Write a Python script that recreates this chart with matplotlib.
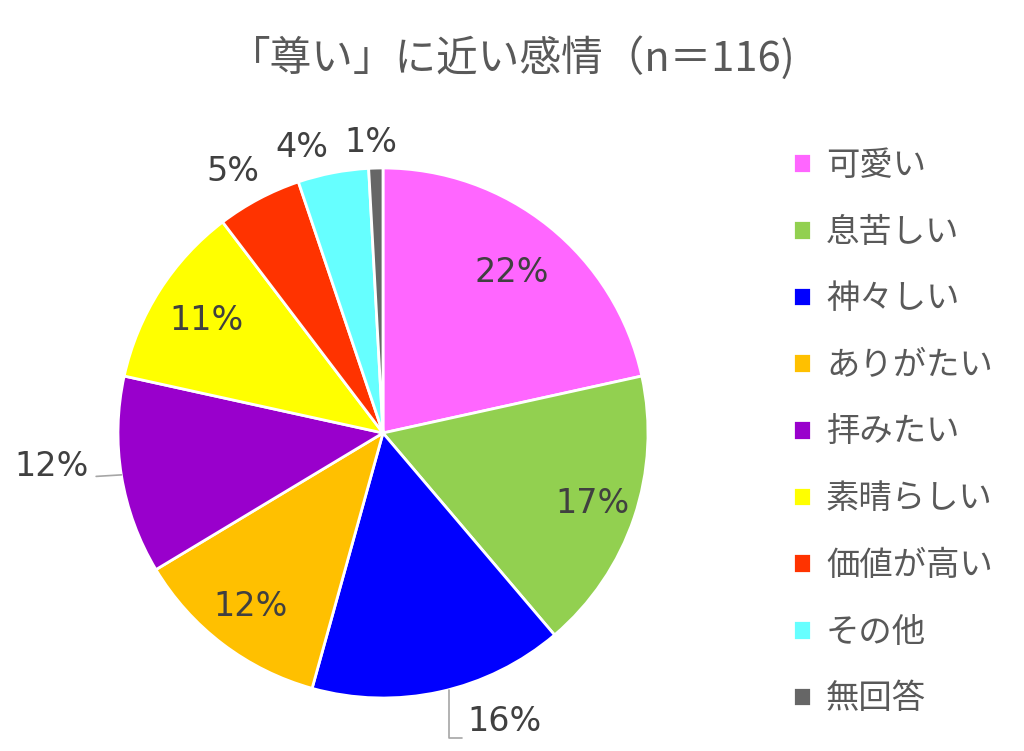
import numpy as np
import matplotlib.pyplot as plt

plt.rcParams['font.family'] = ['Noto Sans CJK JP', 'DejaVu Sans']

# data (n = 116)
labels = ['可愛い', '息苦しい', '神々しい', 'ありがたい', '拝みたい',
          '素晴らしい', '価値が高い', 'その他', '無回答']
counts = [25, 20, 18, 14, 14, 13, 6, 5, 1]
colors = ['#FF66FF', '#92D050', '#0000FF', '#FFC000', '#9900CC',
          '#FFFF00', '#FF3300', '#66FFFF', '#666666']

total = sum(counts)
pcts = [round(100 * c / total) for c in counts]

fig = plt.figure(figsize=(10.24, 7.51), dpi=100)
W, H = 1024, 751
cx, cy, r = 383, 433, 265
ax = fig.add_axes([(cx - r) / W, (H - cy - r) / H, 2 * r / W, 2 * r / H])

wedges, _ = ax.pie(counts, colors=colors, startangle=90, counterclock=False,
                   radius=1, wedgeprops=dict(edgecolor='white', linewidth=2))
ax.set_xlim(-1, 1)
ax.set_ylim(-1, 1)
ax.set_aspect('equal')
ax.axis('off')

lab_font = dict(fontsize=24, color='#404040', family='DejaVu Sans',
                ha='center', va='center')

# inner labels: radius along the slice's middle (fraction of pie radius)
inner_r = {0: 0.775, 1: 0.835, 3: 0.823, 5: 0.79}
# outer labels placed beside the small slices (axes units)
outer_pos = {6: (-0.566, 0.985), 7: (-0.306, 1.079), 8: (-0.045, 1.098)}

cum = np.cumsum([0] + counts)
for i, p in enumerate(pcts):
    mid = (cum[i] + counts[i] / 2) / total * 2 * np.pi
    dx, dy = np.sin(mid), np.cos(mid)
    txt = f'{p}%'
    if i in inner_r:
        ax.text(inner_r[i] * dx, inner_r[i] * dy, txt, **lab_font)
    elif i in outer_pos:
        ax.text(*outer_pos[i], txt, **lab_font)
    elif i == 2:
        # 16% with elbow leader line
        ax.annotate(txt, xy=(0.25, -0.968), xytext=(0.46, -1.09), **lab_font,
                    arrowprops=dict(arrowstyle='-', color='#A6A6A6', lw=1.2,
                                    connectionstyle='angle,angleA=0,angleB=90,rad=0',
                                    relpos=(0, 0.0), shrinkA=2, shrinkB=0))
    else:
        # 12% purple with leader line
        ax.annotate(txt, xy=(-0.987, -0.158), xytext=(-1.249, -0.128), **lab_font,
                    arrowprops=dict(arrowstyle='-', color='#A6A6A6', lw=1.2,
                                    relpos=(1, 0.2), shrinkA=3, shrinkB=0))

fig.text(0.500, 1 - 58 / H, '「尊い」に近い感情（n＝116)', ha='center', va='center',
         fontsize=30, color='#595959')

leg = fig.legend(wedges, labels, loc='upper left',
                 bbox_to_anchor=(793 / W, 1 - 148 / H), borderaxespad=0, borderpad=0,
                 frameon=False, fontsize=24, labelspacing=0.95, handlelength=0.54,
                 handleheight=0.54, handletextpad=0.45, labelcolor='#595959')

fig.savefig('out.png', dpi=100, facecolor='white')
